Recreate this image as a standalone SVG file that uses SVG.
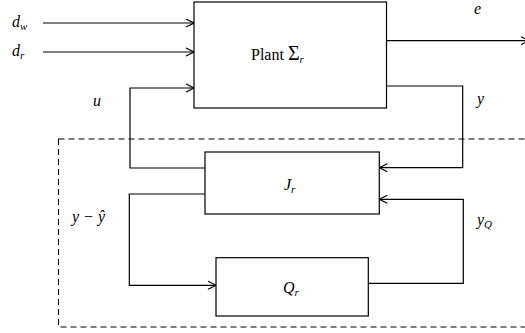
<svg xmlns="http://www.w3.org/2000/svg" width="525" height="333" viewBox="0 0 525 333">
<style>
.b{fill:#fff;stroke:#000;stroke-width:1.2}
.c{fill:none;stroke:#000;stroke-width:1.2}
.t{font-family:"Liberation Serif",serif;font-size:16px;fill:#000}
.i{font-style:italic}
.s{font-size:11px}
</style>
<defs>
<marker id="a" viewBox="0 0 10 10" refX="9" refY="5" markerWidth="10" markerHeight="10" markerUnits="userSpaceOnUse" orient="auto">
<path d="M1,1 L9,5 L1,9" fill="none" stroke="#000" stroke-width="1.2"/>
</marker>
</defs>
<rect id="dashed" x="58.5" y="139" width="480" height="188" fill="none" stroke="#000" stroke-width="1.1" stroke-dasharray="6,4"/>
<g id="connectors">
<path class="c" d="M43,23 H194" marker-end="url(#a)"/>
<path class="c" d="M43,52 H194" marker-end="url(#a)"/>
<path class="c" d="M205,168 H130 V88 H194" marker-end="url(#a)"/>
<path class="c" d="M386.5,40.7 H529" marker-end="url(#a)"/>
<path class="c" d="M386.5,86 H462.7 V167.7 H379.3" marker-end="url(#a)"/>
<path class="c" d="M205,194 H129.3 V285.3 H216" marker-end="url(#a)"/>
<path class="c" d="M368.3,283.3 H463.3 V199.3 H379.3" marker-end="url(#a)"/>
</g>
<g id="plant">
<rect class="b" x="194" y="2" width="192.5" height="106"/>
<text class="t" x="251" y="60">Plant <tspan font-size="20">Σ</tspan><tspan class="i s" dy="3">r</tspan></text>
</g>
<g id="J">
<rect class="b" x="205" y="152" width="174.3" height="62"/>
<text class="t i" x="284" y="190">J<tspan class="s" dy="3">r</tspan></text>
</g>
<g id="Q">
<rect class="b" x="216" y="257.7" width="152.3" height="58.3"/>
<text class="t i" x="283" y="293">Q<tspan class="s" dy="3">r</tspan></text>
</g>
<g id="labels">
<text class="t i" x="12" y="27">d<tspan class="s" dy="3">w</tspan></text>
<text class="t i" x="12" y="56">d<tspan class="s" dy="3">r</tspan></text>
<text class="t i" x="93" y="106">u</text>
<text class="t i" x="474" y="14">e</text>
<text class="t i" x="477" y="104">y</text>
<text class="t i" x="477" y="225">y<tspan class="s" dy="3">Q</tspan></text>
<text class="t i" x="72" y="222">y − ŷ</text>
</g>
</svg>
